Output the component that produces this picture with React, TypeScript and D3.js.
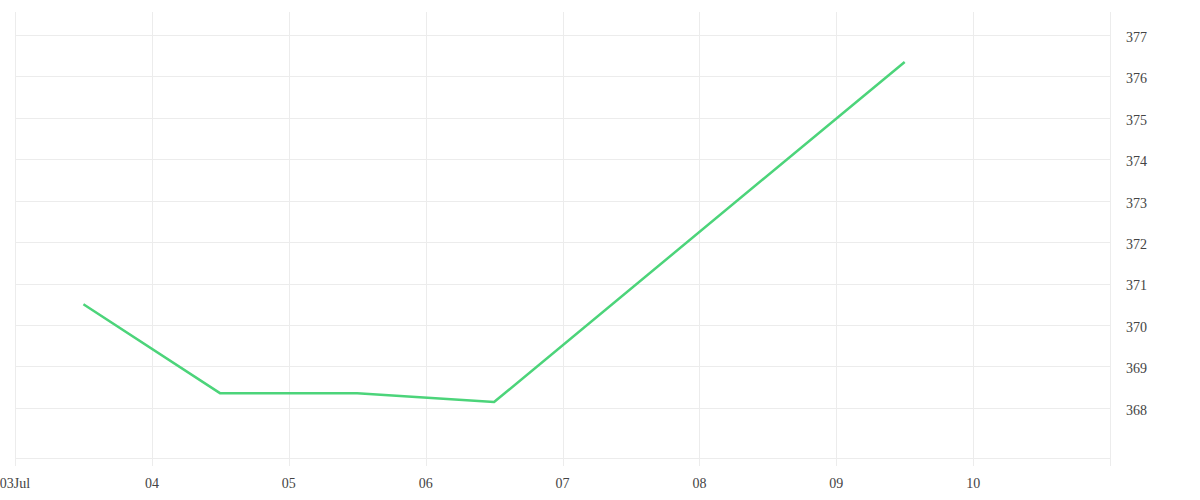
import React from "react";
import * as d3 from "d3";

const dates: string[] = ["2023-07-03T12:00:00Z", "2023-07-04T12:00:00Z", "2023-07-05T12:00:00Z", "2023-07-06T12:00:00Z", "2023-07-09T12:00:00Z"];
const values: number[] = [370.5, 368.35, 368.35, 368.14, 376.35];
const yTicks: number[] = [368, 369, 370, 371, 372, 373, 374, 375, 376, 377];

const W = 1200;
const H = 500;
const left = 15;
const right = 1110;
const top = 12;
const bottom = 458;

export default function App() {
  const x = d3
    .scaleUtc()
    .domain([new Date("2023-07-03T00:00:00Z"), new Date("2023-07-11T00:00:00Z")])
    .range([left, right]);
  const y = d3.scaleLinear().domain([366.79, 377.555]).range([bottom, top]);
  const xTicks = d3.utcDay.range(new Date("2023-07-03T00:00:00Z"), new Date("2023-07-11T00:00:01Z"));
  const fmt = (d: Date) => (d.getUTCDate() === 3 ? "03Jul" : d3.utcFormat("%d")(d));
  const data = dates.map((d, i) => ({ t: new Date(d), v: values[i] }));
  const line = d3
    .line<{ t: Date; v: number }>()
    .x((d) => x(d.t))
    .y((d) => y(d.v));
  const grid = "#ececec";
  const font = "'Liberation Serif', serif";
  return (
    <div style={{ position: "absolute", left: 0, top: 0 }}>
      <svg width={W} height={H} style={{ display: "block", background: "#fff" }}>
        {yTicks.map((t) => (
          <line key={"h" + t} x1={left} x2={right} y1={Math.round(y(t)) + 0.5} y2={Math.round(y(t)) + 0.5} stroke={grid} />
        ))}
        <line x1={left} x2={right} y1={bottom + 0.5} y2={bottom + 0.5} stroke={grid} />
        {xTicks.map((d, i) => (
          <line
            key={"v" + i}
            x1={Math.round(x(d)) + 0.5}
            x2={Math.round(x(d)) + 0.5}
            y1={top}
            y2={bottom + 8}
            stroke={grid}
          />
        ))}
        {xTicks.slice(0, -1).map((d, i) => (
          <text
            key={"xl" + i}
            x={x(d)}
            y={488}
            textAnchor="middle"
            fontFamily={font}
            fontSize={14}
            fill="#444"
          >
            {fmt(d)}
          </text>
        ))}
        {yTicks.map((t) => (
          <text
            key={"yl" + t}
            x={1126}
            y={y(t) + 2}
            dy="0.35em"
            fontFamily={font}
            fontSize={14}
            fill="#444"
          >
            {t}
          </text>
        ))}
        <path d={line(data) || ""} fill="none" stroke="#4cd47a" strokeWidth={2.5} strokeLinejoin="round" />
      </svg>
    </div>
  );
}
